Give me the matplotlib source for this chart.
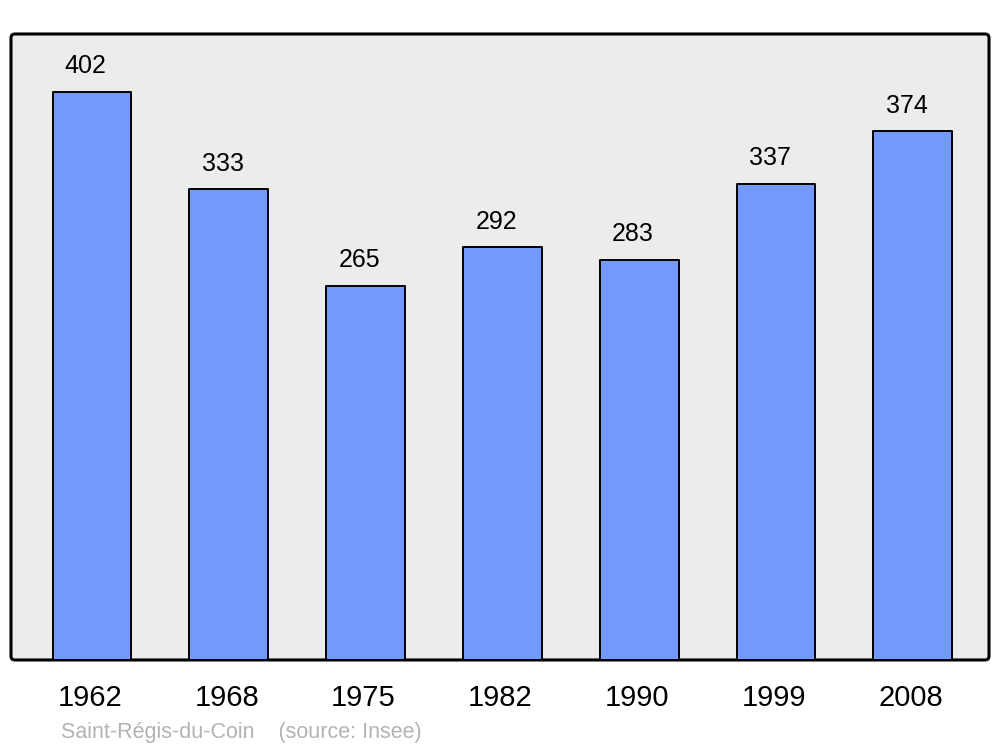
import numpy as np
import matplotlib
matplotlib.use('Agg')
import matplotlib.pyplot as plt
import matplotlib.transforms as mtransforms
from matplotlib.patches import FancyBboxPatch

plt.rcParams['font.family'] = ['Liberation Sans', 'DejaVu Sans']

years = ['1962', '1968', '1975', '1982', '1990', '1999', '2008']
population = [402, 333, 265, 292, 283, 337, 374]

fig = plt.figure(figsize=(10, 7.47), dpi=100)
ax = fig.add_axes([0.011, 0.1165, 0.978, 0.838])
ax.set_facecolor('none')

# rounded grey frame behind the bars
frame = FancyBboxPatch((0, 0), 1, 1, boxstyle='round,pad=0,rounding_size=0.004',
                       transform=ax.transAxes, facecolor='#ececec', edgecolor='black',
                       linewidth=2.2, zorder=0, clip_on=False, mutation_aspect=1.56)
ax.add_patch(frame)

x = np.arange(len(years))
bars = ax.bar(x, population, width=0.575, color='#7399ff', edgecolor='black',
              linewidth=1.4, zorder=2)
for b in bars:
    b.set_joinstyle('round')

for xi, v in zip(x, population):
    ax.annotate(str(v), (xi, v), xytext=(-4.5, 13.5), textcoords='offset points',
                ha='center', va='baseline', fontsize=18)

ax.set_xlim(-0.592, 6.557)
ax.set_ylim(0, 443)
ax.set_xticks(x)
ax.set_xticklabels(years, fontsize=21)
ax.tick_params(axis='x', length=0, pad=17.5)
shift = mtransforms.ScaledTranslation(-2 / 100, 0, fig.dpi_scale_trans)
for lbl in ax.get_xticklabels():
    lbl.set_transform(lbl.get_transform() + shift)
ax.set_yticks([])
for s in ax.spines.values():
    s.set_visible(False)

fig.text(0.061, 0.005, 'Saint-Régis-du-Coin    (source: Insee)', color='#b3b3b3',
         fontsize=15.5, ha='left', va='bottom')

fig.savefig('out.png', dpi=100)
